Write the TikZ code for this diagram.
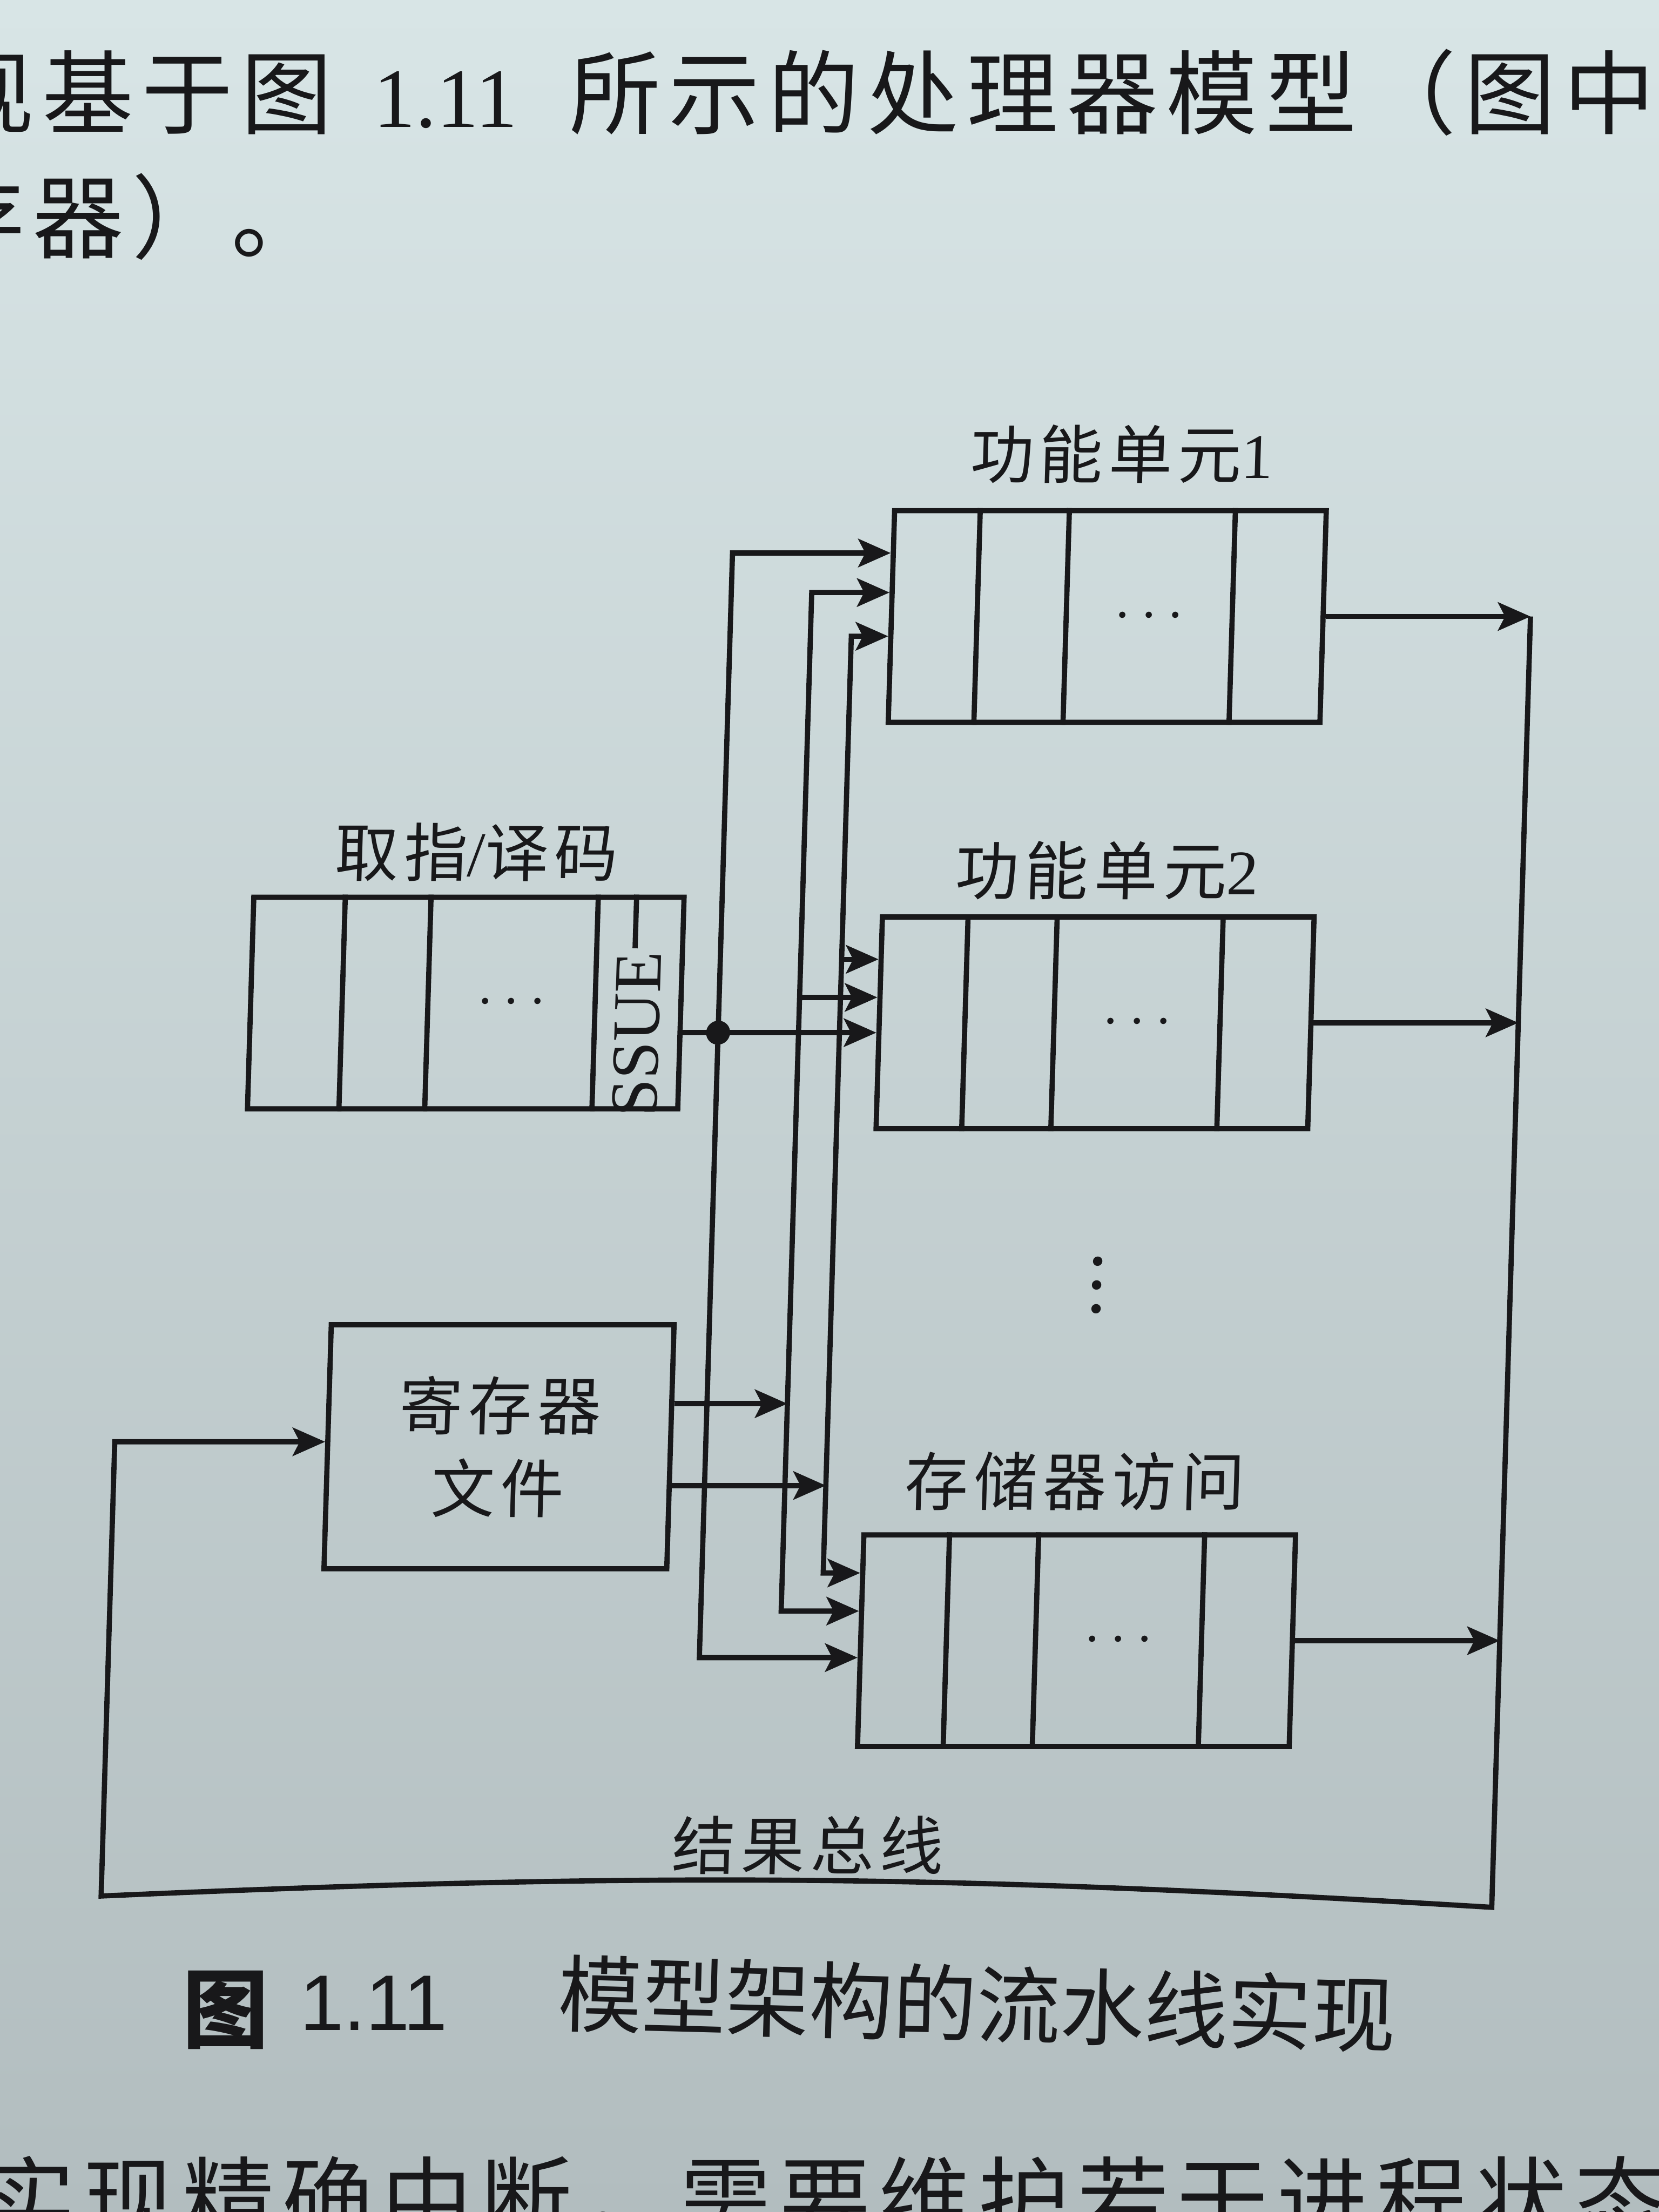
\documentclass[tikz,border=0pt]{standalone}
\usepackage{fontspec}
\setmainfont{Liberation Serif}
\newfontfamily\cjk{Noto Sans CJK SC}
\newfontfamily\cjksp[LetterSpace=9]{Noto Sans CJK SC}
\newfontfamily\capsans{Liberation Sans}
\usetikzlibrary{arrows.meta,calc}
\definecolor{ink}{RGB}{24,24,26}
\definecolor{papertop}{RGB}{216,229,230}
\definecolor{papermid}{RGB}{201,214,216}
\definecolor{paperbot}{RGB}{178,189,191}
\tikzset{
  bodytxt/.style={font=\cjksp\fontsize{18.4pt}{22pt}\selectfont, text=ink, inner sep=0pt},
  lab/.style={font=\cjksp\fontsize{12.8pt}{16.7pt}\selectfont, text=ink, inner sep=0pt},
  boxst/.style={draw=ink, line width=1.05pt, minimum width=30.6mm, minimum height=15mm, inner sep=0pt},
  divst/.style={draw=ink, line width=1.05pt},
  dotsst/.style={font=\fontsize{12pt}{14pt}\selectfont, text=ink, inner sep=0pt},
  tipst/.tip={Stealth[length=2.3mm,width=2mm,inset=0.5mm]},
  arr/.style={draw=ink, line width=1.05pt, -tipst},
  arrtwo/.style={draw=ink, line width=1.05pt, tipst-tipst},
  dotst/.style={circle, fill=ink, minimum size=1.7mm, inner sep=0pt}
}
\begin{document}
\begin{tikzpicture}[x=0.1mm,y=-0.1mm]
\useasboundingbox (0,0) rectangle (1176,1568);
\clip (0,0) rectangle (1176,1568);
\shade[top color=papertop, middle color=papermid, bottom color=paperbot] (0,0) rectangle (1176,1568);

% page text
\node[bodytxt, anchor=base west] (p1a) at (-41,90) {现基于图};
\node[anchor=base west, inner sep=0pt, text=ink, font=\fontsize{17pt}{20pt}\selectfont] (p1b) at (264,90) {1.11};
\node[bodytxt, anchor=base west] (p1c) at (403,90) {所示的处理器模型（图中};
\node[bodytxt, anchor=base west] (p2) at (-48,178) {存器）。};
\node[bodytxt, anchor=base west] (p3) at (-12,1583) {实现精确中断，需要维护若干进程状态};

% caption
\node[font=\cjk\bfseries\fontsize{17.3pt}{20pt}\selectfont, text=ink, inner sep=0pt, anchor=base] (capa) at (160,1447) {图};
\node[font=\capsans\fontsize{15.9pt}{19pt}\selectfont, text=ink, inner sep=0pt, anchor=base] (capb) at (265,1439) {1.11};
\node[font=\cjk\fontsize{16.9pt}{20pt}\selectfont, text=ink, inner sep=0pt, anchor=base, rotate=-1.5] (capc) at (692,1443) {模型架构的流水线实现};

\begin{scope}[cm={1,0,0.03,1,(0pt,0pt)}, every node/.append style={transform shape}]
% boxes
\node[boxst] (fu1) at (798,437) {};
\node[boxst] (fu2) at (798,725) {};
\node[boxst] (mem) at (798,1163) {};
\node[boxst, minimum width=30.5mm] (fetch) at (351.5,711) {};
\node[boxst, minimum width=24.3mm, minimum height=17.3mm, lab, align=center] (reg) at (384.5,1025.5) {寄存器\\文件};

\foreach \b in {fu1,fu2,mem}{
  \foreach \f in {0.202,0.406,0.786}{
    \draw[divst] ($(\b.north west)!\f!(\b.north east)$) -- ($(\b.south west)!\f!(\b.south east)$);
  }
}
\foreach \f in {0.216,0.413,0.797}{
  \draw[divst] ($(fetch.north west)!\f!(fetch.north east)$) -- ($(fetch.south west)!\f!(fetch.south east)$);
}

% cell contents
\node[dotsst] (dd1) at ($(fu1.west)!0.596!(fu1.east)$) {$\cdots$};
\node[dotsst] (dd2) at ($(fu2.west)!0.596!(fu2.east)$) {$\cdots$};
\node[dotsst] (dd3) at ($(mem.west)!0.596!(mem.east)$) {$\cdots$};
\node[dotsst] (dd4) at ($(fetch.west)!0.605!(fetch.east)$) {$\cdots$};
\node[font=\fontsize{13.6pt}{15pt}\selectfont, text=ink, inner sep=0pt, rotate=90] (iss) at ($(fetch.west)!0.895!(fetch.east)+(0,22)$) {SSUE};
\draw[divst] ($(fetch.north west)!0.885!(fetch.north east)$) -- ++(0,38);
\node[text=ink, inner sep=0pt, font=\fontsize{16pt}{16pt}\selectfont] (vd) at (805,911)
  {\vbox{\baselineskip=4.8pt\lineskiplimit=-20pt\hbox{.}\hbox{.}\hbox{.}}};

% labels
\node[lab] (t1) at (805,322) {功能单元{\rmfamily 1}};
\node[lab] (t2) at (803.5,617) {功能单元{\rmfamily 2}};
\node[lab] (t3) at (793.5,1050) {存储器访问};
\node[lab] (t4) at (356,604) {取指{\rmfamily /}译码};
\node[lab] (t5) at (612,1308) {结果总线};

% bus coordinates
\coordinate (l1t) at (531,392);
\coordinate (l1d) at (531,732);
\coordinate (l1b) at (531,1175);
\coordinate (l2t) at (588,420);
\coordinate (l2m) at (588,707);
\coordinate (l2r) at (588,995);
\coordinate (l2b) at (588,1142);
\coordinate (l3t) at (617,451);
\coordinate (l3m) at (617,680);
\coordinate (l3r) at (617,1053);
\coordinate (l3b) at (617,1115);
\coordinate (rb1) at (1098,437);
\coordinate (rb2) at (1098,725);
\coordinate (rb3) at (1098,1163);
\coordinate (rbb) at (1098,1352);
\coordinate (lbb) at (112,1344);
\coordinate (lbt) at (112,1022);

% issue bus
\draw[arr] (fetch.east |- l1d) -- (l1d) -- (l1d -| fu2.west);
\node[dotst] (jn) at (l1d) {};
\draw[arrtwo] (l1t -| fu1.west) -- (l1t) -- (l1b) -- (l1b -| mem.west);
% register buses
\draw[arrtwo] (l2t -| fu1.west) -- (l2t) -- (l2b) -- (l2b -| mem.west);
\draw[arr] (l2m) -- (l2m -| fu2.west);
\draw[arrtwo] (l3t -| fu1.west) -- (l3t) -- (l3b) -- (l3b -| mem.west);
\draw[arr] (l3m) -- (l3m -| fu2.west);
\draw[arr] (reg.east |- l2r) -- (l2r);
\draw[arr] (reg.east |- l3r) -- (l3r);
% outputs and result bus
\draw[arr] (fu1.east) -- (rb1);
\draw[arr] (fu2.east) -- (rb2);
\draw[arr] (mem.east) -- (rb3);
\draw[arr] (rb1) -- (rbb) to[bend right=3] (lbb) -- (lbt) -- (reg.west |- lbt);
\end{scope}
\end{tikzpicture}
\end{document}
